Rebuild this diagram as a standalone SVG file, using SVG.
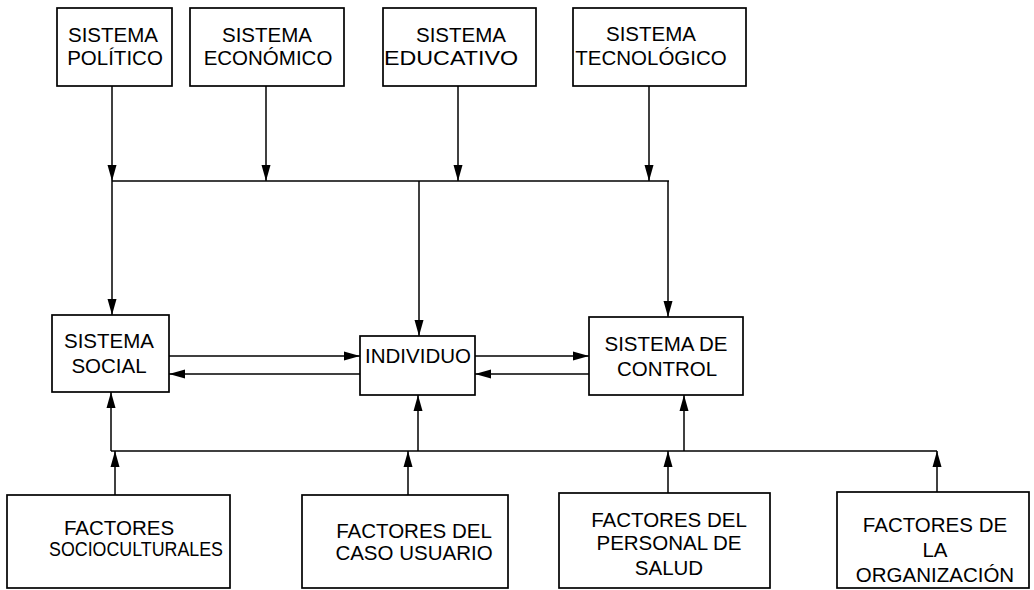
<svg xmlns="http://www.w3.org/2000/svg" width="1034" height="590" viewBox="0 0 1034 590">
<defs>
<marker id="ah" viewBox="0 0 16 10" refX="16" refY="5" markerWidth="16" markerHeight="10" markerUnits="userSpaceOnUse" orient="auto">
<path d="M0,0.5 L16,5 L0,9.5 Z" fill="#000"/>
</marker>
<style>
.box{fill:#fff;stroke:#000;stroke-width:1.7}
.t{font-family:"Liberation Sans",Arial,sans-serif;font-size:20.5px;fill:#000;text-anchor:middle}
.c{fill:none;stroke:#000;stroke-width:1.5}
.a{fill:none;stroke:#000;stroke-width:1.5;marker-end:url(#ah)}
</style>
</defs>
<rect width="1034" height="590" fill="#fff"/>

<g id="connectors">
<line class="a" x1="112" y1="86" x2="112" y2="181"/>
<line class="a" x1="266" y1="86" x2="266" y2="181"/>
<line class="a" x1="458" y1="86" x2="458" y2="181"/>
<line class="a" x1="649" y1="86" x2="649" y2="181"/>
<line class="c" x1="112" y1="181" x2="669" y2="181"/>
<line class="a" x1="112" y1="181" x2="112" y2="315"/>
<line class="a" x1="419" y1="181" x2="419" y2="336"/>
<line class="a" x1="668" y1="181" x2="668" y2="317"/>
<line class="a" x1="169" y1="356" x2="360" y2="356"/>
<line class="a" x1="360" y1="374" x2="169" y2="374"/>
<line class="a" x1="475" y1="356" x2="589" y2="356"/>
<line class="a" x1="589" y1="374" x2="475" y2="374"/>
<line class="c" x1="111" y1="451" x2="937" y2="451"/>
<line class="a" x1="111" y1="451" x2="111" y2="392"/>
<line class="a" x1="418" y1="451" x2="418" y2="395"/>
<line class="a" x1="684" y1="451" x2="684" y2="395"/>
<line class="a" x1="115" y1="495" x2="115" y2="451"/>
<line class="a" x1="408" y1="495" x2="408" y2="451"/>
<line class="a" x1="668" y1="493" x2="668" y2="451"/>
<line class="a" x1="937" y1="492" x2="937" y2="451"/>
</g>

<g id="n-politico">
<rect class="box" x="57" y="8" width="115" height="78"/>
<text class="t" x="113" y="42">SISTEMA</text>
<text class="t" x="115" y="65">POLÍTICO</text>
</g>
<g id="n-economico">
<rect class="box" x="190" y="8" width="154" height="78"/>
<text class="t" x="267" y="42">SISTEMA</text>
<text class="t" x="268" y="65">ECONÓMICO</text>
</g>
<g id="n-educativo">
<rect class="box" x="383" y="8" width="153" height="78"/>
<text class="t" x="461" y="42">SISTEMA</text>
<text class="t" x="451" y="65" textLength="134" lengthAdjust="spacingAndGlyphs">EDUCATIVO</text>
</g>
<g id="n-tecnologico">
<rect class="box" x="573" y="8" width="173" height="78"/>
<text class="t" x="651" y="41">SISTEMA</text>
<text class="t" x="651" y="65">TECNOLÓGICO</text>
</g>

<g id="n-social">
<rect class="box" x="52" y="315" width="117" height="77"/>
<text class="t" x="109" y="348">SISTEMA</text>
<text class="t" x="109" y="373">SOCIAL</text>
</g>
<g id="n-individuo">
<rect class="box" x="360" y="336" width="115" height="59"/>
<text class="t" x="418" y="363">INDIVIDUO</text>
</g>
<g id="n-control">
<rect class="box" x="589" y="317" width="154" height="78"/>
<text class="t" x="666" y="351">SISTEMA DE</text>
<text class="t" x="667" y="376">CONTROL</text>
</g>

<g id="n-socioculturales">
<rect class="box" x="7" y="495" width="223" height="93"/>
<text class="t" x="119" y="535">FACTORES</text>
<text class="t" x="49" y="556" style="text-anchor:start" textLength="174" lengthAdjust="spacingAndGlyphs">SOCIOCULTURALES</text>
</g>
<g id="n-usuario">
<rect class="box" x="302" y="495" width="206" height="93"/>
<text class="t" x="414" y="538">FACTORES DEL</text>
<text class="t" x="414" y="560">CASO USUARIO</text>
</g>
<g id="n-personal">
<rect class="box" x="559" y="493" width="211" height="95"/>
<text class="t" x="669" y="527">FACTORES DEL</text>
<text class="t" x="669" y="550">PERSONAL DE</text>
<text class="t" x="669" y="575">SALUD</text>
</g>
<g id="n-organizacion">
<rect class="box" x="837" y="492" width="192" height="96"/>
<text class="t" x="935" y="532">FACTORES DE</text>
<text class="t" x="935" y="557">LA</text>
<text class="t" x="935" y="582">ORGANIZACIÓN</text>
</g>
</svg>
